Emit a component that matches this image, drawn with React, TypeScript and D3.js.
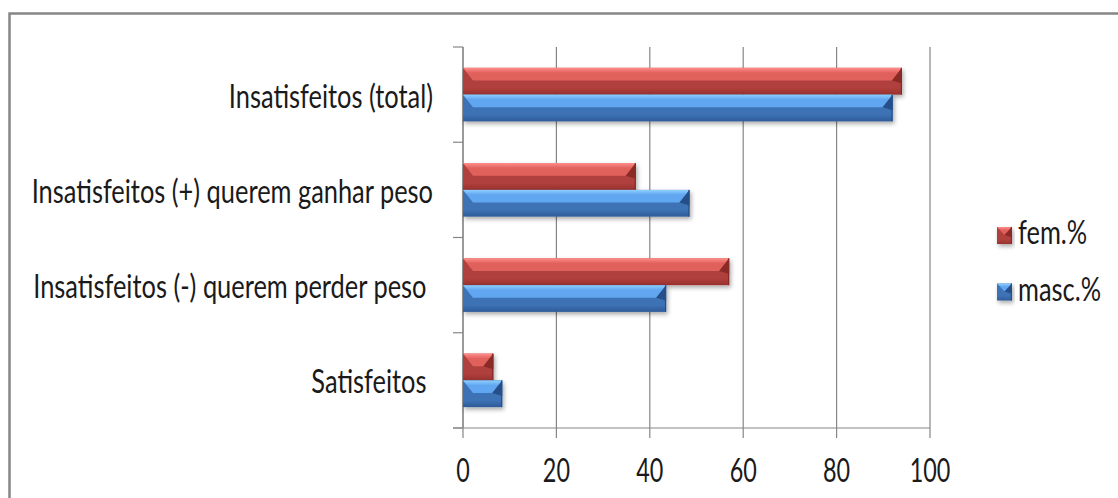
import React from 'react';
import * as d3 from 'd3';

// Survey categories (top to bottom) and the share of each group, in %
const categories = [
  'Insatisfeitos (total)',
  'Insatisfeitos (+) querem ganhar peso',
  'Insatisfeitos (-) querem perder peso ',
  'Satisfeitos ',
];
const femValues = [94, 37, 57, 6.5];
const mascValues = [92, 48.5, 43.5, 8.4];
const seriesNames = ['fem.%', 'masc.%'];
const xTicks = [0, 20, 40, 60, 80, 100];

const W = 1118;
const H = 498;
const plot = { left: 463, right: 930, top: 47, bottom: 428 };

const FONT = 'Lato, "Open Sans", sans-serif';
const WEIGHT = 400;
const SX = 0.77; // narrow look of the chart text
const AXIS = '#868686';

type Palette = { id: string; light: string; top: string; mid: string; dark: string; right: string };
const palettes: Palette[] = [
  { id: 'fem', light: '#ff8d8a', top: '#e0605c', mid: '#b03f3c', dark: '#98322f', right: '#8a2a28' },
  { id: 'masc', light: '#8fd0ff', top: '#60a6f0', mid: '#3d72b5', dark: '#2e5b98', right: '#27508a' },
];

function Defs() {
  return (
    <defs>
      <filter id="shadow" x="-10%" y="-30%" width="130%" height="180%">
        <feDropShadow dx="1.5" dy="2.5" stdDeviation="2" floodColor="#000" floodOpacity="0.33" />
      </filter>
      {palettes.map((p) => (
        <React.Fragment key={p.id}>
          <linearGradient id={`${p.id}-top`} x1="0" y1="0" x2="0" y2="1">
            <stop offset="0" stopColor={p.light} />
            <stop offset="0.4" stopColor={p.top} />
            <stop offset="1" stopColor={p.top} />
          </linearGradient>
          <linearGradient id={`${p.id}-body`} x1="0" y1="0" x2="0" y2="1">
            <stop offset="0" stopColor={p.mid} />
            <stop offset="0.75" stopColor={p.mid} />
            <stop offset="1" stopColor={p.dark} />
          </linearGradient>
        </React.Fragment>
      ))}
    </defs>
  );
}

// Bevelled bar: light slanted top facet over a darker body, darker right cap
function BevelBar({ x0, x1, y0, y1, p, bevel = 10 }: { x0: number; x1: number; y0: number; y1: number; p: Palette; bevel?: number }) {
  const w = x1 - x0;
  const h = y1 - y0;
  const b = Math.min(bevel, w / 2);
  const ym = y0 + h * 0.47;
  const pts = (a: number[][]) => a.map((q) => q.join(',')).join(' ');
  return (
    <g filter="url(#shadow)">
      <rect x={x0} y={y0} width={w} height={h} fill={`url(#${p.id}-body)`} />
      <polygon points={pts([[x0, y0], [x1, y0], [x1 - b, ym], [x0 + b, ym]])} fill={`url(#${p.id}-top)`} />
      <polygon points={pts([[x1, y0], [x1 - b, ym], [x1, ym + b * 0.3]])} fill={p.right} />
      <rect x={x1 - 1.2} y={y0} width={1.2} height={h} fill={p.right} />
    </g>
  );
}

export default function App() {
  const x = d3.scaleLinear().domain([0, 100]).range([plot.left, plot.right]);
  const y = d3.scaleBand<string>().domain(categories).range([plot.top, plot.bottom]).padding(0);
  const inner = d3
    .scaleBand<string>()
    .domain(seriesNames)
    .range([0, y.bandwidth()])
    .paddingOuter(0.78)
    .paddingInner(0);
  const series = [femValues, mascValues];
  const boundaries = [...categories.map((c) => y(c) as number), plot.bottom];

  return (
    <svg width={W} height={H} style={{ position: 'absolute', left: 0, top: 0, background: '#fff' }}>
      <Defs />
      <rect x={9.5} y={13.5} width={W + 20} height={H + 20} fill="#fff" stroke={AXIS} strokeWidth={2.5} />

      {/* vertical gridlines */}
      {xTicks.map((t) => (
        <line key={`g${t}`} x1={x(t)} x2={x(t)} y1={plot.top} y2={plot.bottom + 10} stroke={AXIS} strokeWidth={1.2} />
      ))}
      {/* category axis with tick marks at band edges */}
      <line x1={plot.left} x2={plot.left} y1={plot.top} y2={plot.bottom} stroke={AXIS} strokeWidth={1.2} />
      {boundaries.map((b, i) => (
        <line key={`yt${i}`} x1={plot.left - 10} x2={plot.left} y1={b} y2={b} stroke={AXIS} strokeWidth={1.2} />
      ))}
      <line x1={plot.left - 10} x2={plot.right} y1={plot.bottom} y2={plot.bottom} stroke={AXIS} strokeWidth={1.2} />

      {/* bars */}
      {categories.map((c, ci) =>
        seriesNames.map((s, si) => {
          const y0 = (y(c) as number) + (inner(s) as number);
          return (
            <BevelBar
              key={`${c}-${s}`}
              x0={x(0)}
              x1={x(series[si][ci])}
              y0={y0}
              y1={y0 + inner.bandwidth()}
              p={palettes[si]}
            />
          );
        })
      )}

      {/* category labels */}
      {categories.map((c) => (
        <g key={`l${c}`} transform={`translate(${plot.left - 30},${(y(c) as number) + y.bandwidth() / 2 + 13}) scale(${SX},1)`}>
          <text textAnchor="end" fontFamily={FONT} fontWeight={WEIGHT} fontSize={33} fill="#1a1a1a" style={{ whiteSpace: 'pre' }}>
            {c}
          </text>
        </g>
      ))}

      {/* value axis labels */}
      {xTicks.map((t) => (
        <g key={`xl${t}`} transform={`translate(${x(t)},${482}) scale(${SX * 0.92},1)`}>
          <text textAnchor="middle" fontFamily={FONT} fontWeight={WEIGHT} fontSize={33} fill="#1a1a1a">
            {t}
          </text>
        </g>
      ))}

      {/* legend */}
      {seriesNames.map((s, i) => {
        const base = 244 + i * 56.5;
        return (
          <g key={`lg${s}`}>
            <BevelBar x0={997} x1={1012} y0={base - 17} y1={base} p={palettes[i]} bevel={7.5} />
            <g transform={`translate(1018,${base}) scale(${SX},1)`}>
              <text fontFamily={FONT} fontWeight={WEIGHT} fontSize={33} fill="#1a1a1a">
                {s}
              </text>
            </g>
          </g>
        );
      })}
    </svg>
  );
}
